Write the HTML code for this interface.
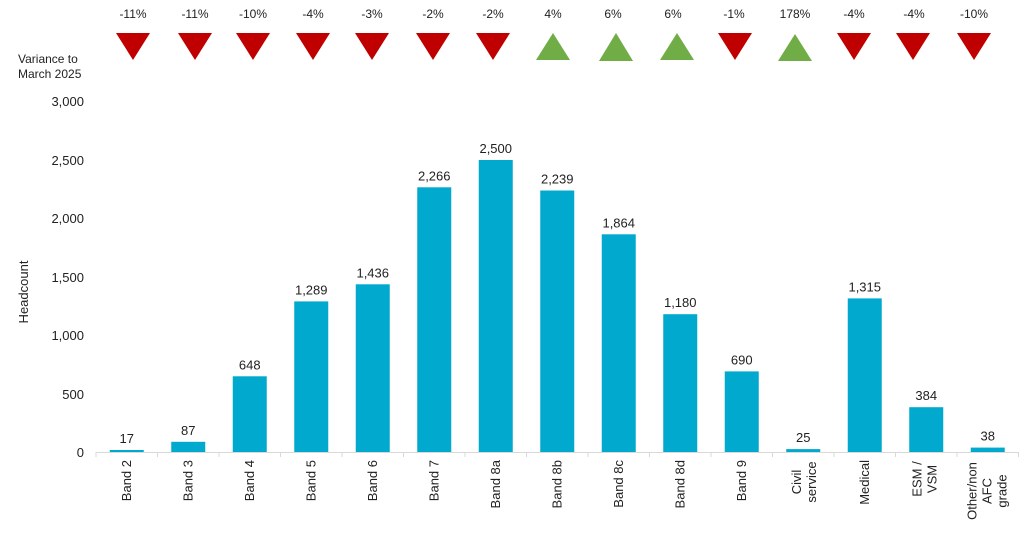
<!DOCTYPE html>
<html><head><meta charset="utf-8"><style>
body{margin:0;background:#fff;}
svg text{font-family:"Liberation Sans",Arial,sans-serif;fill:#222;}
</style></head><body>
<svg width="1024" height="531" viewBox="0 0 1024 531" xmlns="http://www.w3.org/2000/svg">
<text x="18" y="63" font-size="12">Variance to</text>
<text x="18" y="78" font-size="12">March 2025</text>
<g font-size="13" text-anchor="end">
<text x="84" y="106">3,000</text>
<text x="84" y="165">2,500</text>
<text x="84" y="223">2,000</text>
<text x="84" y="282">1,500</text>
<text x="84" y="340">1,000</text>
<text x="84" y="399">500</text>
<text x="84" y="457">0</text>
</g>
<text transform="translate(28,292) rotate(-90)" font-size="13" text-anchor="middle">Headcount</text>
<line x1="96" y1="452.5" x2="1019" y2="452.5" stroke="#d9d9d9" stroke-width="1"/>
<g stroke="#d9d9d9">
<line x1="96" y1="452" x2="96" y2="457"/><line x1="157.5" y1="452" x2="157.5" y2="457"/><line x1="219" y1="452" x2="219" y2="457"/><line x1="280.5" y1="452" x2="280.5" y2="457"/><line x1="342" y1="452" x2="342" y2="457"/><line x1="403.5" y1="452" x2="403.5" y2="457"/><line x1="465" y1="452" x2="465" y2="457"/><line x1="526.5" y1="452" x2="526.5" y2="457"/><line x1="588" y1="452" x2="588" y2="457"/><line x1="649.5" y1="452" x2="649.5" y2="457"/><line x1="711" y1="452" x2="711" y2="457"/><line x1="772.5" y1="452" x2="772.5" y2="457"/><line x1="834" y1="452" x2="834" y2="457"/><line x1="895.5" y1="452" x2="895.5" y2="457"/><line x1="957" y1="452" x2="957" y2="457"/><line x1="1018.5" y1="452" x2="1018.5" y2="457"/>
</g>
<g fill="#00a9cd">
<rect x="109.75" y="450" width="34" height="2"/>
<rect x="171.25" y="441.8" width="34" height="10.2"/>
<rect x="232.75" y="376.3" width="34" height="75.7"/>
<rect x="294.25" y="301.4" width="34" height="150.6"/>
<rect x="355.75" y="284.3" width="34" height="167.7"/>
<rect x="417.25" y="187.3" width="34" height="264.7"/>
<rect x="478.75" y="160" width="34" height="292"/>
<rect x="540.25" y="190.5" width="34" height="261.5"/>
<rect x="601.75" y="234.3" width="34" height="217.7"/>
<rect x="663.25" y="314.2" width="34" height="137.8"/>
<rect x="724.75" y="371.4" width="34" height="80.6"/>
<rect x="786.25" y="449.1" width="34" height="2.9"/>
<rect x="847.75" y="298.4" width="34" height="153.6"/>
<rect x="909.25" y="407.2" width="34" height="44.8"/>
<rect x="970.75" y="447.6" width="34" height="4.4"/>
</g>
<g font-size="13" text-anchor="middle">
<text x="126.75" y="443">17</text>
<text x="188.25" y="434.8">87</text>
<text x="249.75" y="369.3">648</text>
<text x="311.25" y="294.4">1,289</text>
<text x="372.75" y="277.3">1,436</text>
<text x="434.25" y="180.3">2,266</text>
<text x="495.75" y="153">2,500</text>
<text x="557.25" y="183.5">2,239</text>
<text x="618.75" y="227.3">1,864</text>
<text x="680.25" y="307.2">1,180</text>
<text x="741.75" y="364.4">690</text>
<text x="803.25" y="442.1">25</text>
<text x="864.75" y="291.4">1,315</text>
<text x="926.25" y="400.2">384</text>
<text x="987.75" y="440.6">38</text>
</g>
<g font-size="13" text-anchor="end">
<text transform="translate(130.75,460) rotate(-90)">Band 2</text>
<text transform="translate(192.25,460) rotate(-90)">Band 3</text>
<text transform="translate(253.75,460) rotate(-90)">Band 4</text>
<text transform="translate(315.25,460) rotate(-90)">Band 5</text>
<text transform="translate(376.75,460) rotate(-90)">Band 6</text>
<text transform="translate(438.25,460) rotate(-90)">Band 7</text>
<text transform="translate(499.75,460) rotate(-90)">Band 8a</text>
<text transform="translate(561.25,460) rotate(-90)">Band 8b</text>
<text transform="translate(622.75,460) rotate(-90)">Band 8c</text>
<text transform="translate(684.25,460) rotate(-90)">Band 8d</text>
<text transform="translate(745.75,460) rotate(-90)">Band 9</text>
<text transform="translate(868.75,460) rotate(-90)">Medical</text>
</g>
<g font-size="13" text-anchor="middle">
<text transform="translate(801,482) rotate(-90)">Civil</text>
<text transform="translate(816,482) rotate(-90)">service</text>
<text transform="translate(921.5,479) rotate(-90)">ESM /</text>
<text transform="translate(936.5,479) rotate(-90)">VSM</text>
<text transform="translate(976.5,491) rotate(-90)">Other/non</text>
<text transform="translate(991.5,491) rotate(-90)">AFC</text>
<text transform="translate(1006.5,491) rotate(-90)">grade</text>
</g>
<g font-size="12" text-anchor="middle">
<text x="133" y="18">-11%</text><text x="195" y="18">-11%</text><text x="253" y="18">-10%</text><text x="313" y="18">-4%</text><text x="372" y="18">-3%</text><text x="433" y="18">-2%</text><text x="493" y="18">-2%</text><text x="553" y="18">4%</text><text x="613" y="18">6%</text><text x="673" y="18">6%</text><text x="734" y="18">-1%</text><text x="795" y="18">178%</text><text x="854" y="18">-4%</text><text x="914" y="18">-4%</text><text x="974" y="18">-10%</text>
</g>
<g fill="#c00000">
<polygon points="116,33 150,33 133,60"/>
<polygon points="178,33 212,33 195,60"/>
<polygon points="236,33 270,33 253,60"/>
<polygon points="296,33 330,33 313,60"/>
<polygon points="355,33 389,33 372,60"/>
<polygon points="416,33 450,33 433,60"/>
<polygon points="476,33 510,33 493,60"/>
<polygon points="718,33 752,33 735,60"/>
<polygon points="837,33 871,33 854,60"/>
<polygon points="896,33 930,33 913,60"/>
<polygon points="957,33 991,33 974,60"/>
</g>
<g fill="#70ad47">
<polygon points="536,60 570,60 553,33"/>
<polygon points="599,61 633,61 616,33"/>
<polygon points="660,60 694,60 677,33"/>
<polygon points="778,61 812,61 795,34"/>
</g>
</svg>
</body></html>
